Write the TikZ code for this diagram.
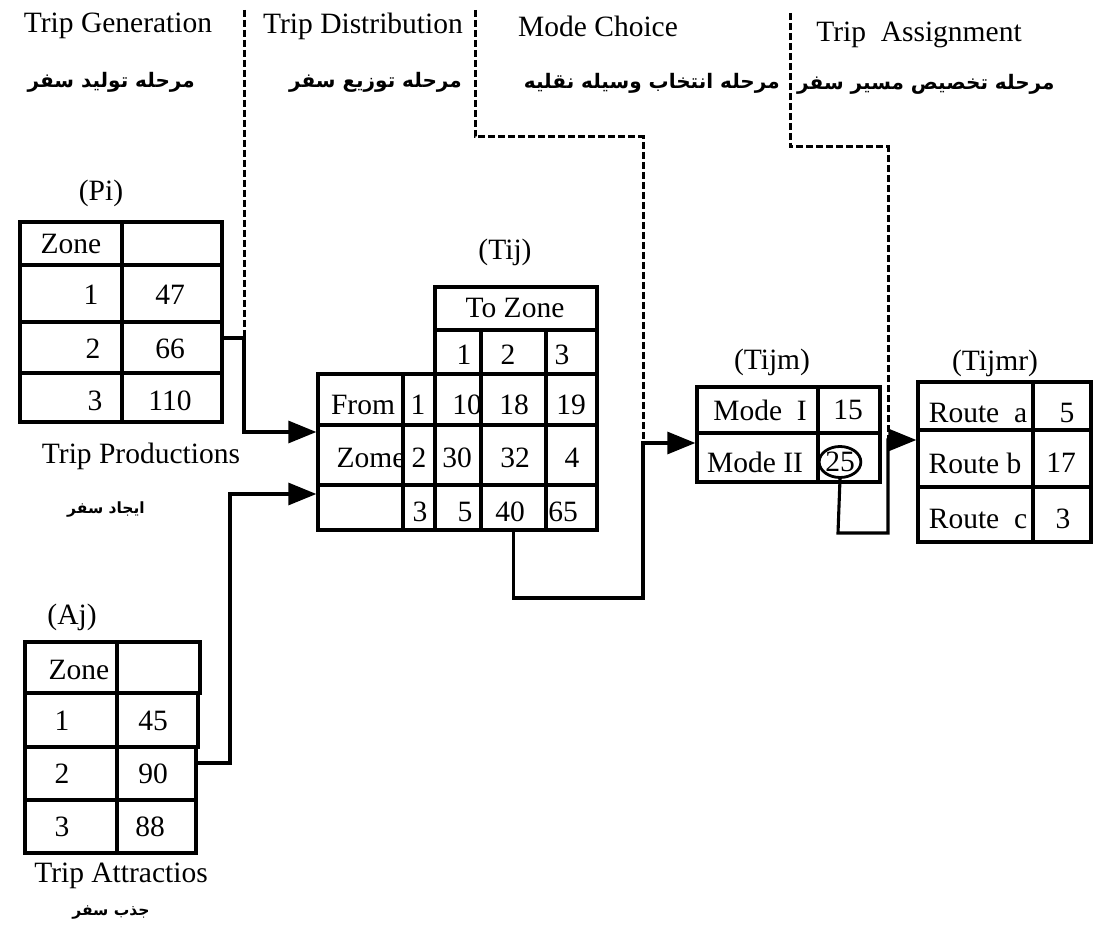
\documentclass[tikz,border=0pt]{standalone}
\usepackage{fontspec}
\setmainfont{Liberation Serif}
\newfontfamily\arabicfont[Script=Arabic]{DejaVu Sans}
\TeXXeTstate=1
\usetikzlibrary{arrows.meta,shapes.geometric,fit}
\newcommand\bigf{\fontsize{29.5}{34}\selectfont}
\newcommand\fatext[1]{\beginR #1\endR}
\newcommand\cell[5]{\node[cellbox, fit={(#2,#3) (#4,#5)}] (#1) {};}
\begin{document}
\begin{tikzpicture}[x=1pt,y=-1pt,
  cellbox/.style={draw, line width=3.3pt, inner sep=0pt, rectangle},
  txt/.style={inner sep=0pt, font=\bigf},
  fa/.style={inner sep=0pt, font=\arabicfont\bfseries\fontsize{20}{24}\selectfont},
  fasmall/.style={inner sep=0pt, font=\arabicfont\bfseries\fontsize{15.5}{19}\selectfont},
  conn/.style={line width=3.1pt},
  dsh/.style={line width=3pt, dash pattern=on 7pt off 3pt},
  arr/.style={-{Triangle[length=28pt,width=22pt]}}]
\useasboundingbox[fill=white] (0,0) rectangle (1111,949);

% ---------- headers ----------
\node[txt, anchor=base] (h1) at (118,33) {Trip Generation};
\node[txt, anchor=base] (h2) at (363,34) {Trip Distribution};
\node[txt, anchor=base] (h3) at (598,37) {Mode Choice};
\node[txt, anchor=base] (h4) at (919,42) {Trip\ \ Assignment};
\node[fa, anchor=east] (f1) at (195,82) {\fatext{مرحله تولید سفر}};
\node[fa, anchor=east] (f2) at (462,82) {\fatext{مرحله توزیع سفر}};
\node[fa, anchor=east] (f3) at (780,83) {\fatext{مرحله انتخاب وسیله نقلیه}};
\node[fa, anchor=west] (f4) at (797,84) {\fatext{مرحله تخصیص مسیر سفر}};

% ---------- Pi table ----------
\node[txt] (pil) at (101,193) {(Pi)};
\cell{pz}{20}{222}{122}{265} \cell{pzv}{122}{222}{222}{265}
\cell{p1}{20}{265}{122}{322} \cell{p1v}{122}{265}{222}{322}
\cell{p2}{20}{322}{122}{373} \cell{p2v}{122}{322}{222}{373}
\cell{p3}{20}{373}{122}{422} \cell{p3v}{122}{373}{222}{422}
\node[txt] (tpz) at (71,244) {Zone};
\node[txt] (tp1) at (91,295) {1};
\node[txt] (tp1v) at (170,295) {47};
\node[txt] (tp2) at (93,349) {2};
\node[txt] (tp2v) at (170,349) {66};
\node[txt] (tp3) at (95,401) {3};
\node[txt] (tp3v) at (170,401) {110};
\node[txt, anchor=base] (prod) at (141,463) {Trip Productions};
\node[fasmall] (fprod) at (106,510) {\fatext{ایجاد سفر}};

% ---------- Aj table ----------
\node[txt] (ajl) at (72,617) {(Aj)};
\cell{az}{25}{642}{117}{693} \cell{azv}{117}{642}{200}{693}
\cell{a1}{25}{693}{117}{747} \cell{a1v}{117}{693}{198}{747}
\cell{a2}{25}{747}{117}{800} \cell{a2v}{117}{747}{196}{800}
\cell{a3}{25}{800}{117}{853} \cell{a3v}{117}{800}{196}{853}
\node[txt] (taz) at (79,670) {Zone};
\node[txt] (ta1) at (62,721) {1};
\node[txt] (ta1v) at (153,721) {45};
\node[txt] (ta2) at (62,774) {2};
\node[txt] (ta2v) at (153,774) {90};
\node[txt] (ta3) at (62,827) {3};
\node[txt] (ta3v) at (150,827) {88};
\node[txt, anchor=base] (attr) at (121,882) {Trip Attractios};
\node[fasmall] (fattr) at (111,913) {\fatext{جذب سفر}};

% ---------- Tij table ----------
\node[txt] (tijl) at (505,252) {(Tij)};
\cell{tz}{435}{287}{597}{330}
\cell{h1c}{435}{330}{481}{374} \cell{h2c}{481}{330}{546}{374} \cell{h3c}{546}{330}{597}{374}
\cell{r1a}{318}{374}{403}{425} \cell{r1b}{403}{374}{435}{425} \cell{r1c}{435}{374}{481}{425} \cell{r1d}{481}{374}{546}{425} \cell{r1e}{546}{374}{597}{425}
\cell{r2a}{318}{425}{403}{485} \cell{r2b}{403}{425}{435}{485} \cell{r2c}{435}{425}{481}{485} \cell{r2d}{481}{425}{546}{485} \cell{r2e}{546}{425}{597}{485}
\cell{r3a}{318}{485}{403}{530} \cell{r3b}{403}{485}{435}{530} \cell{r3c}{435}{485}{481}{530} \cell{r3d}{481}{485}{546}{530} \cell{r3e}{546}{485}{597}{530}
\node[txt] (ttz) at (515,308) {To Zone};
\node[txt] (th1) at (464,355) {1};
\node[txt] (th2) at (508,355) {2};
\node[txt] (th3) at (562,355) {3};
\node[txt] (tfr) at (363,405) {From};
\node[txt] (tf1) at (418,405) {1};
\node[txt] (t11) at (467,405) {10};
\node[txt] (t12) at (514,405) {18};
\node[txt] (t13) at (571,405) {19};
\node[txt] (tzo) at (371,458) {Zome};
\node[txt] (tf2) at (419,458) {2};
\node[txt] (t21) at (457,458) {30};
\node[txt] (t22) at (515,458) {32};
\node[txt] (t23) at (572,458) {4};
\node[txt] (tf3) at (420,512) {3};
\node[txt] (t31) at (465,512) {5};
\node[txt] (t32) at (510,512) {40};
\node[txt] (t33) at (563,512) {65};

% ---------- Tijm table ----------
\node[txt] (tijml) at (772,362) {(Tijm)};
\cell{m1}{697}{387}{818}{433} \cell{m1v}{818}{387}{880}{433}
\cell{m2}{697}{433}{818}{482} \cell{m2v}{818}{433}{880}{482}
\node[txt] (tm1) at (760,410) {Mode\ \ I};
\node[txt] (tm1v) at (848,410) {15};
\node[txt] (tm2) at (755,462) {Mode II};
\node[txt, draw, ellipse, line width=2.8pt, minimum width=38pt, minimum height=31pt] (c25) at (840,462) {25};

% ---------- Tijmr table ----------
\node[txt] (tijmrl) at (995,363) {(Tijmr)};
\cell{q1}{918}{382}{1033}{430} \cell{q1v}{1033}{382}{1091}{430}
\cell{q2}{918}{430}{1033}{487} \cell{q2v}{1033}{430}{1091}{487}
\cell{q3}{918}{487}{1033}{542} \cell{q3v}{1033}{487}{1091}{542}
\node[txt] (tq1) at (978,413) {Route\ \ a};
\node[txt] (tq1v) at (1067,413) {5};
\node[txt] (tq2) at (975,463) {Route b};
\node[txt] (tq2v) at (1061,463) {17};
\node[txt] (tq3) at (978,519) {Route\ \ c};
\node[txt] (tq3v) at (1063,519) {3};

% ---------- dashed separators ----------
\coordinate (d1t) at (244,10);
\coordinate (d1b) at (244,338);
\coordinate (d2t) at (475,10);
\coordinate (d2a) at (475,137);
\coordinate (d2b) at (643,137);
\coordinate (d2e) at (643,443);
\coordinate (d3t) at (790,13);
\coordinate (d3a) at (790,147);
\coordinate (d3b) at (888,147);
\coordinate (d3e) at (888,440);
\draw[dsh] (d1t) -- (d1b);
\draw[dsh] (d2t) -- (d2a) -- (d2b) -- (d2e);
\draw[dsh] (d3t) -- (d3a) -- (d3b) -- (d3e);

% ---------- connectors ----------
\coordinate (pa) at (244,432);
\draw[conn, arr] (p2v.east |- d1b) -- (d1b) -- (pa) -- (r2a.west |- pa);
\coordinate (ab) at (230,763);
\coordinate (aa) at (230,494);
\draw[conn, arr] (a2v.east |- ab) -- (ab) -- (aa) -- (r3a.west |- aa);
\coordinate (tl) at (513.5,598);
\draw[conn, arr] (r3d.south) -- (tl) -| (d2e) -- (m2.west |- d2e);
\coordinate (ml) at (838,533);
\draw[conn, arr] (c25.south) -- (ml) -| (d3e) -- (q2.west |- d3e);
\end{tikzpicture}
\end{document}
